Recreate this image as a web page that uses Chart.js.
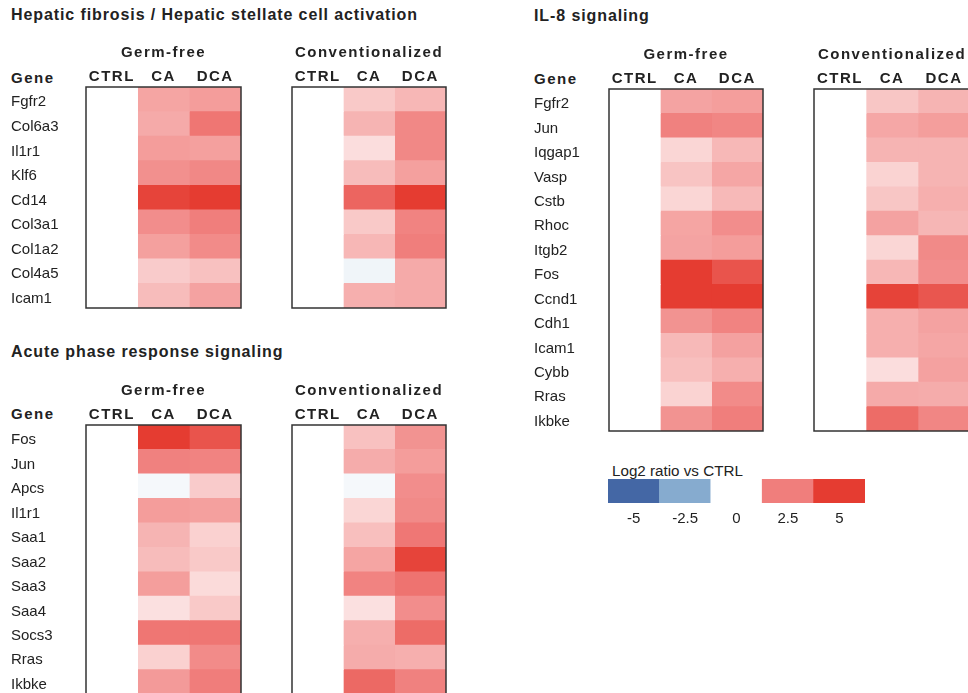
<!DOCTYPE html>
<html>
<head>
<meta charset="utf-8">
<script src="https://cdn.jsdelivr.net/npm/chart.js@4.4.1/dist/chart.umd.min.js"></script>
<style>
  html, body { margin: 0; padding: 0; background: #fff; }
  body { width: 968px; height: 693px; overflow: hidden; position: relative;
         font-family: 'Liberation Sans', Arial, sans-serif; color: #222; }
  .box { position: absolute; }
  .txt { position: absolute; line-height: 1; white-space: nowrap; }
  .titulo { font-size: 16px; font-weight: bold; letter-spacing: 0.9px; }
  .gene { font-size: 15px; font-weight: bold; letter-spacing: 1.5px; }
</style>
</head>
<body>

<div class="txt titulo" style="left:11px; top:7px;">Hepatic fibrosis / Hepatic stellate cell activation</div>
<div class="txt gene" style="left:11px; top:70px;">Gene</div>
<div class="box" style="left:0px; top:37px; width:243px; height:273px;"><canvas id="fib-gf"></canvas></div>
<div class="box" style="left:290px; top:37px; width:158px; height:273px;"><canvas id="fib-conv"></canvas></div>

<div class="txt titulo" style="left:11px; top:344px;">Acute phase response signaling</div>
<div class="txt gene" style="left:11px; top:406px;">Gene</div>
<div class="box" style="left:0px; top:375px; width:243px; height:321px;"><canvas id="app-gf"></canvas></div>
<div class="box" style="left:290px; top:375px; width:158px; height:321px;"><canvas id="app-conv"></canvas></div>

<div class="txt titulo" style="left:534px; top:8px;">IL-8 signaling</div>
<div class="txt gene" style="left:534px; top:71px;">Gene</div>
<div class="box" style="left:523px; top:39px; width:242px; height:394px;"><canvas id="il8-gf"></canvas></div>
<div class="box" style="left:812px; top:39px; width:160px; height:394px;"><canvas id="il8-conv"></canvas></div>

<div class="txt" style="left:612px; top:463px; font-size:15.2px;">Log2 ratio vs CTRL</div>
<div class="box" style="left:608px; top:479px; width:257px; height:50px;"><canvas id="legenda"></canvas></div>

<script>
const CONDICOES = ['CTRL', 'CA', 'DCA'];
const LEGENDA_VALORES = [-5, -2.5, 0, 2.5, 5];

// Hepatic fibrosis / Hepatic stellate cell activation
const fibGenes   = ['Fgfr2', 'Col6a3', 'Il1r1', 'Klf6', 'Cd14', 'Col3a1', 'Col1a2', 'Col4a5', 'Icam1'];
const fibGfCtrl  = [0, 0, 0, 0, 0, 0, 0, 0, 0];
const fibGfCa    = [1.75, 1.65, 1.9, 2.15, 4.7, 2.2, 1.85, 1.0, 1.3];
const fibGfDca   = [1.9, 2.8, 1.85, 2.3, 5.0, 2.5, 2.25, 1.2, 1.8];
const fibConvCtrl = [0, 0, 0, 0, 0, 0, 0, 0, 0];
const fibConvCa   = [1.05, 1.45, 0.65, 1.3, 3.45, 1.05, 1.4, -0.3, 1.55];
const fibConvDca  = [1.4, 2.3, 2.3, 1.85, 5.0, 2.4, 2.5, 1.65, 1.65];

// Acute phase response signaling
const appGenes   = ['Fos', 'Jun', 'Apcs', 'Il1r1', 'Saa1', 'Saa2', 'Saa3', 'Saa4', 'Socs3', 'Rras', 'Ikbke'];
const appGfCtrl  = [0, 0, 0, 0, 0, 0, 0, 0, 0, 0, 0];
const appGfCa    = [5.0, 2.45, -0.2, 1.9, 1.45, 1.3, 1.88, 0.6, 2.8, 0.9, 1.95];
const appGfDca   = [4.1, 2.4, 1.0, 1.85, 0.9, 1.05, 0.7, 1.05, 2.8, 2.25, 2.55];
const appConvCtrl = [0, 0, 0, 0, 0, 0, 0, 0, 0, 0, 0];
const appConvCa   = [1.2, 1.6, -0.2, 0.8, 1.25, 1.75, 2.4, 0.6, 1.55, 1.6, 3.3];
const appConvDca  = [2.1, 1.9, 2.2, 2.27, 2.75, 4.7, 2.9, 2.2, 3.2, 1.55, 2.45];

// IL-8 signaling
const il8Genes   = ['Fgfr2', 'Jun', 'Iqgap1', 'Vasp', 'Cstb', 'Rhoc', 'Itgb2', 'Fos', 'Ccnd1', 'Cdh1', 'Icam1', 'Cybb', 'Rras', 'Ikbke'];
const il8GfCtrl  = [0, 0, 0, 0, 0, 0, 0, 0, 0, 0, 0, 0, 0, 0];
const il8GfCa    = [1.78, 2.45, 0.8, 1.15, 0.8, 1.75, 1.78, 5.0, 5.0, 2.1, 1.35, 1.25, 0.85, 2.1];
const il8GfDca   = [1.88, 2.35, 1.38, 1.72, 1.35, 2.2, 1.9, 4.1, 5.0, 2.4, 1.82, 1.55, 2.25, 2.5];
const il8ConvCtrl = [0, 0, 0, 0, 0, 0, 0, 0, 0, 0, 0, 0, 0, 0];
const il8ConvCa   = [1.1, 1.7, 1.45, 0.85, 1.1, 1.8, 0.8, 1.4, 4.75, 1.55, 1.55, 0.65, 1.65, 3.2];
const il8ConvDca  = [1.45, 1.88, 1.45, 1.45, 1.55, 1.42, 2.27, 2.2, 4.0, 1.8, 1.72, 1.82, 1.6, 2.35];

Chart.defaults.font.family = "'Liberation Sans', Arial, sans-serif";
Chart.defaults.color = '#222';

// escala de cor: branco em 0, vermelho para cima, azul para baixo
function corDaCelula(v) {
  const pos = [[255, 255, 255], [240, 126, 124], [229, 60, 49]];
  const neg = [[255, 255, 255], [134, 171, 207], [68, 103, 165]];
  const cores = v >= 0 ? pos : neg;
  let t = Math.min(Math.abs(v) / 2.5, 2);
  const i = t >= 1 ? 1 : 0;
  t = t - i;
  const a = cores[i], b = cores[i + 1];
  const c = a.map((x, k) => Math.round(x + (b[k] - x) * t));
  return `rgb(${c[0]}, ${c[1]}, ${c[2]})`;
}

// moldura preta em volta do heatmap
const moldura = {
  id: 'moldura',
  afterDatasetsDraw(chart) {
    const {ctx, chartArea: {left, top, right, bottom}} = chart;
    ctx.save();
    ctx.strokeStyle = '#333';
    ctx.lineWidth = 1.5;
    ctx.strokeRect(left, top, right - left, bottom - top);
    ctx.restore();
  }
};

// cabeçalhos em negrito com letras espaçadas (só no eixo x)
const espacamento = {
  id: 'espacamento',
  beforeDraw(chart) {
    const x = chart.scales.x;
    if (x._espacado) return;
    ['drawLabels', 'drawTitle'].forEach(m => {
      const orig = x[m];
      x[m] = function(...args) {
        this.ctx.letterSpacing = '1.5px';
        orig.apply(this, args);
        this.ctx.letterSpacing = '0px';
      };
    });
    x._espacado = true;
  }
};

function heatmap(id, genes, series, grupo, mostraGenes) {
  new Chart(document.getElementById(id), {
    type: 'bar',
    data: {
      labels: genes,
      datasets: series.map((valores, i) => ({
        label: CONDICOES[i],
        data: valores.map(() => 1),
        backgroundColor: valores.map(corDaCelula),
        borderWidth: 0,
        barPercentage: 1,
        categoryPercentage: 1
      }))
    },
    options: {
      indexAxis: 'y',
      animation: false,
      responsive: true,
      maintainAspectRatio: false,
      layout: { padding: { left: mostraGenes ? 11 : 2, right: 2, top: 0, bottom: 2 } },
      plugins: { legend: { display: false }, tooltip: { enabled: false } },
      scales: {
        x: {
          type: 'linear',
          position: 'top',
          stacked: true,
          min: 0,
          max: 3,
          grid: { display: false, drawTicks: false },
          border: { display: false },
          afterBuildTicks: s => { s.ticks = CONDICOES.map((c, i) => ({ value: i + 0.5 })); },
          ticks: {
            callback: (v, i) => CONDICOES[i],
            font: { size: 15, weight: 'bold' },
            padding: 1,
            maxRotation: 0,
            autoSkip: false
          },
          title: {
            display: true,
            text: grupo,
            font: { size: 15, weight: 'bold' },
            padding: { top: 6.5, bottom: 0 }
          },
          afterFit: s => { s.height = 50; s.paddingLeft = 0; s.paddingRight = 0; }
        },
        y: {
          type: 'category',
          stacked: true,
          display: mostraGenes,
          grid: { display: false, drawTicks: false },
          border: { display: false },
          ticks: { crossAlign: 'far', padding: 0, labelOffset: 3, font: { size: 15 }, autoSkip: false },
          afterFit: s => {
            if (mostraGenes) s.width = 75;
            s.paddingTop = 0;
            s.paddingBottom = 0;
          }
        }
      }
    },
    plugins: [moldura, espacamento]
  });
}

heatmap('fib-gf', fibGenes, [fibGfCtrl, fibGfCa, fibGfDca], 'Germ-free', true);
heatmap('fib-conv', fibGenes, [fibConvCtrl, fibConvCa, fibConvDca], 'Conventionalized', false);
heatmap('app-gf', appGenes, [appGfCtrl, appGfCa, appGfDca], 'Germ-free', true);
heatmap('app-conv', appGenes, [appConvCtrl, appConvCa, appConvDca], 'Conventionalized', false);
heatmap('il8-gf', il8Genes, [il8GfCtrl, il8GfCa, il8GfDca], 'Germ-free', true);
heatmap('il8-conv', il8Genes, [il8ConvCtrl, il8ConvCa, il8ConvDca], 'Conventionalized', false);

// legenda de cores
new Chart(document.getElementById('legenda'), {
  type: 'bar',
  data: {
    labels: LEGENDA_VALORES.map(String),
    datasets: [{
      data: LEGENDA_VALORES.map(() => 1),
      backgroundColor: LEGENDA_VALORES.map(corDaCelula),
      borderWidth: 0,
      barPercentage: 1,
      categoryPercentage: 1
    }]
  },
  options: {
    animation: false,
    responsive: true,
    maintainAspectRatio: false,
    plugins: { legend: { display: false }, tooltip: { enabled: false } },
    scales: {
      x: {
        grid: { display: false, drawTicks: false },
        border: { display: false },
        ticks: { padding: 7, font: { size: 15 } },
        afterFit: s => { s.height = 26; s.paddingLeft = 0; s.paddingRight = 0; }
      },
      y: { display: false, min: 0, max: 1 }
    }
  }
});
</script>
</body>
</html>
